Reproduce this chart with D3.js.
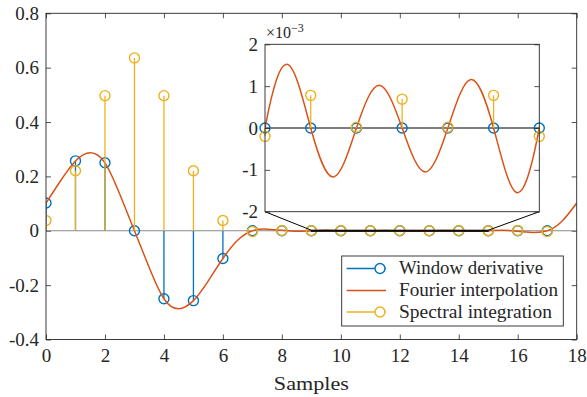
<!DOCTYPE html>
<html>
<head>
<meta charset="utf-8">
<script src="https://cdn.jsdelivr.net/npm/d3@7"></script>
<style>
  body { margin: 0; background: #fff; }
  text { font-family: "Liberation Serif", "Times New Roman", serif; fill: #262626; }
</style>
</head>
<body>
<div id="chart"></div>
<script>
// samples 0..17
const samples = d3.range(0, 18);
const windowDerivative = [0.102, 0.257, 0.250, 0, -0.250, -0.257, -0.102, 0, 0, 0, 0, 0, 0, 0, 0, 0, 0, 0];
const spectralIntegration = [0.038, 0.221, 0.497, 0.636, 0.497, 0.221, 0.038, -0.003, 0.001,
    -0.0002, 0.00078, 0.00002, 0.00069, 0.00002, 0.00078, -0.0002, 0.001, -0.003];
// fourier interpolation
const fourierX = [0, 0.5, 1, 1.5, 2, 2.5, 3, 3.5, 4, 4.5, 5, 5.5, 6, 6.5, 7, 7.5, 8, 8.5,
    9, 9.5, 10, 10.5, 11, 11.5, 12, 12.5, 13, 13.5, 14, 14.5, 15, 15.5, 16, 16.5, 17, 17.5, 18];
const fourierY = [0.102, 0.185, 0.257, 0.287, 0.250, 0.135, 0, -0.135, -0.250, -0.287, -0.257, -0.185, -0.102, -0.035, 0, 0.006, 0.002, -0.002,
    0, 0.00152, 0, -0.00117, 0, 0.00102, 0, -0.00105, 0, 0.00116, 0, -0.00154, 0, 0.002, -0.002, -0.006, 0, 0.035, 0.102];

const xTicks = [0, 2, 4, 6, 8, 10, 12, 14, 16, 18];
const yTicks = [-0.4, -0.2, 0, 0.2, 0.4, 0.6, 0.8];
const insetYTicks = [-0.002, -0.001, 0, 0.001, 0.002];
const legendLabels = ["Window derivative", "Fourier interpolation", "Spectral integration"];

const blue = "#0072BD", orange = "#D95319", yellow = "#EDB120", axisCol = "#262626";

const width = 587, height = 397;
const svg = d3.select("#chart").append("svg")
    .attr("width", width)
    .attr("height", height);

const x = d3.scaleLinear().domain([0, 18]).range([46, 576.7]);
const y = d3.scaleLinear().domain([-0.4, 0.8]).range([339.5, 13.3]);

const fmt = d => d === 0 ? "0" : d.toFixed(1);

function styleAxis(g) {
    g.attr("font-family", null).attr("font-size", null);
    g.select(".domain").remove();
    g.selectAll("line").attr("stroke", axisCol).attr("stroke-width", 0.8);
    g.selectAll("text").style("font-size", "19px").attr("fill", axisCol);
}

// main axes
const gx = svg.append("g").attr("transform", `translate(0,${y(-0.4)})`)
    .call(d3.axisBottom(x).tickValues(xTicks).tickSize(-5).tickPadding(9).tickFormat(d => d));
const gxt = svg.append("g").attr("transform", `translate(0,${y(0.8)})`)
    .call(d3.axisTop(x).tickValues(xTicks).tickSize(-5).tickFormat(""));
const gy = svg.append("g").attr("transform", `translate(${x(0)},0)`)
    .call(d3.axisLeft(y).tickValues(yTicks).tickSize(-5).tickPadding(7).tickFormat(fmt));
const gyr = svg.append("g").attr("transform", `translate(${x(18)},0)`)
    .call(d3.axisRight(y).tickValues(yTicks).tickSize(-5).tickFormat(""));
[gx, gxt, gy, gyr].forEach(styleAxis);
gx.selectAll("text").attr("dy", "0.71em");

svg.append("defs").append("clipPath").attr("id", "mainClip")
    .append("rect").attr("x", x(0)).attr("y", y(0.8)).attr("width", x(18) - x(0)).attr("height", y(-0.4) - y(0.8));

const plot = svg.append("g").attr("clip-path", "url(#mainClip)");

// baseline
plot.append("line")
    .attr("x1", x(0)).attr("x2", x(18)).attr("y1", y(0)).attr("y2", y(0))
    .attr("stroke", "#8a8a8a").attr("stroke-width", 1.2);

function stems(g, xs, ys, sx, sy, color) {
    g.selectAll(null).data(xs).enter().append("line")
        .attr("x1", d => sx(d)).attr("x2", d => sx(d))
        .attr("y1", sy(0)).attr("y2", (d, i) => sy(ys[i]))
        .attr("stroke", color).attr("stroke-width", 1.3);
    g.selectAll(null).data(xs).enter().append("circle")
        .attr("cx", d => sx(d)).attr("cy", (d, i) => sy(ys[i])).attr("r", 5)
        .attr("fill", "none").attr("stroke", color).attr("stroke-width", 1.4);
}

const line = (sx, sy) => d3.line().x(d => sx(d[0])).y(d => sy(d[1])).curve(d3.curveNatural);
const fourierPts = fourierX.map((d, i) => [d, fourierY[i]]);

stems(plot, samples, windowDerivative, x, y, blue);
plot.append("path").datum(fourierPts).attr("d", line(x, y))
    .attr("fill", "none").attr("stroke", orange).attr("stroke-width", 1.5);
stems(plot, samples, spectralIntegration, x, y, yellow);

// zoom box
plot.append("rect")
    .attr("x", x(9)).attr("y", y(0.002)).attr("width", x(15) - x(9)).attr("height", y(-0.002) - y(0.002))
    .attr("fill", "none").attr("stroke", "#000").attr("stroke-width", 1);

// main box
svg.append("rect").attr("x", x(0)).attr("y", y(0.8)).attr("width", x(18) - x(0)).attr("height", y(-0.4) - y(0.8))
    .attr("fill", "none").attr("stroke", axisCol).attr("stroke-width", 0.9);

// inset
const ix = d3.scaleLinear().domain([9, 15]).range([265, 539.3]);
const iy = d3.scaleLinear().domain([-0.002, 0.002]).range([211.7, 44.3]);

svg.append("line").attr("x1", ix(9)).attr("y1", iy(-0.002)).attr("x2", x(9)).attr("y2", y(0.002))
    .attr("stroke", "#000").attr("stroke-width", 1);
svg.append("line").attr("x1", ix(15)).attr("y1", iy(-0.002)).attr("x2", x(15)).attr("y2", y(0.002))
    .attr("stroke", "#000").attr("stroke-width", 1);

svg.append("rect").attr("x", ix(9)).attr("y", iy(0.002)).attr("width", ix(15) - ix(9)).attr("height", iy(-0.002) - iy(0.002))
    .attr("fill", "#fff");

svg.select("defs").append("clipPath").attr("id", "insetClip")
    .append("rect").attr("x", ix(9) - 7).attr("y", iy(0.002)).attr("width", ix(15) - ix(9) + 14).attr("height", iy(-0.002) - iy(0.002));
svg.select("defs").append("clipPath").attr("id", "insetCurveClip")
    .append("rect").attr("x", ix(9)).attr("y", iy(0.002)).attr("width", ix(15) - ix(9)).attr("height", iy(-0.002) - iy(0.002));

const inset = svg.append("g");
inset.append("line").attr("x1", ix(9)).attr("x2", ix(15)).attr("y1", iy(0)).attr("y2", iy(0))
    .attr("stroke", "#000").attr("stroke-width", 1.1);

const insetIdx = samples.filter(d => d >= 9 && d <= 15);
const ip = inset.append("g").attr("clip-path", "url(#insetClip)");
stems(ip, insetIdx, insetIdx.map(d => windowDerivative[d]), ix, iy, blue);
inset.append("g").attr("clip-path", "url(#insetCurveClip)")
    .append("path").datum(fourierPts.filter(d => d[0] >= 7 && d[0] <= 17)).attr("d", line(ix, iy))
    .attr("fill", "none").attr("stroke", orange).attr("stroke-width", 1.5);
const ip2 = inset.append("g");
stems(ip2, insetIdx, insetIdx.map(d => spectralIntegration[d]), ix, iy, yellow);

const giy = inset.append("g").attr("transform", `translate(${ix(9)},0)`)
    .call(d3.axisLeft(iy).tickValues(insetYTicks).tickSize(-5).tickPadding(7).tickFormat(d => String(Math.round(d * 1000))));
const giyr = inset.append("g").attr("transform", `translate(${ix(15)},0)`)
    .call(d3.axisRight(iy).tickValues(insetYTicks).tickSize(-5).tickFormat(""));
[giy, giyr].forEach(styleAxis);
inset.append("rect").attr("x", ix(9)).attr("y", iy(0.002)).attr("width", ix(15) - ix(9)).attr("height", iy(-0.002) - iy(0.002))
    .attr("fill", "none").attr("stroke", axisCol).attr("stroke-width", 0.9);

const expo = inset.append("text").attr("x", 266).attr("y", 37.5).style("font-size", "16px");
expo.append("tspan").text("×10");
expo.append("tspan").attr("dy", -6).style("font-size", "12px").text("−3");

// x label
svg.append("text").attr("x", (x(0) + x(18)) / 2).attr("y", 390)
    .attr("text-anchor", "middle").style("font-size", "19px")
    .attr("textLength", 75).attr("lengthAdjust", "spacingAndGlyphs")
    .text("Samples");

// legend
const lg = svg.append("g");
lg.append("rect").attr("x", 341.7).attr("y", 256).attr("width", 221.6).attr("height", 70)
    .attr("fill", "#fff").attr("stroke", axisCol).attr("stroke-width", 0.9);
const legendColors = [blue, orange, yellow];
const legendMarker = [true, false, true];
const legendY = [268.5, 290.5, 312];
const legendW = [144, 159, 153];
legendLabels.forEach((lab, i) => {
    lg.append("line").attr("x1", 346.7).attr("x2", 386).attr("y1", legendY[i]).attr("y2", legendY[i])
        .attr("stroke", legendColors[i]).attr("stroke-width", i === 1 ? 1.5 : 1.3);
    if (legendMarker[i]) {
        lg.append("circle").attr("cx", 380).attr("cy", legendY[i]).attr("r", 5)
            .attr("fill", "#fff").attr("stroke", legendColors[i]).attr("stroke-width", 1.4);
    }
    lg.append("text").attr("x", 399).attr("y", legendY[i] + 5.5)
        .style("font-size", "18px")
        .attr("textLength", legendW[i]).attr("lengthAdjust", "spacingAndGlyphs")
        .text(lab);
});
</script>
</body>
</html>
